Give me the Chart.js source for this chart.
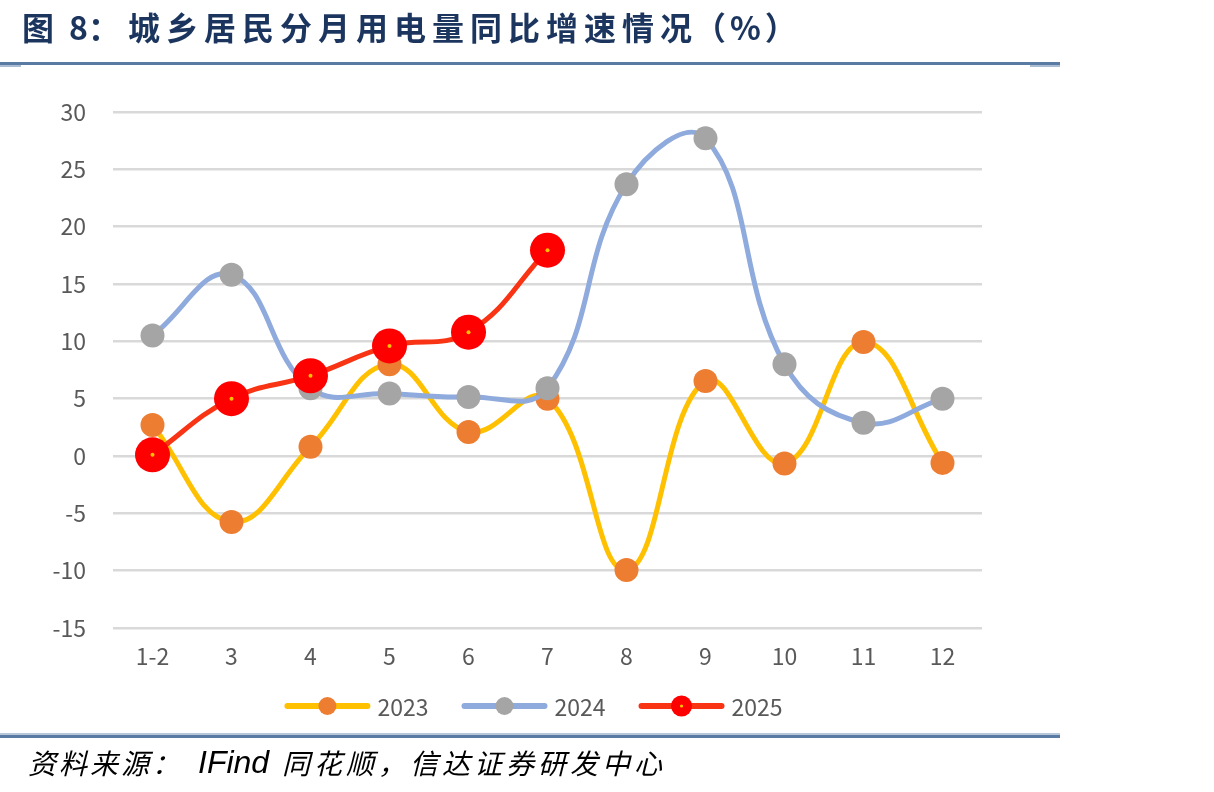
<!DOCTYPE html>
<html><head><meta charset="utf-8">
<script src="https://cdn.jsdelivr.net/npm/chart.js@4.4.1/dist/chart.umd.min.js"></script>
<style>
html,body{margin:0;padding:0;background:#fff;}
body{width:1214px;height:792px;overflow:hidden;position:relative;}
#c{position:absolute;left:0;top:0;}
.tt{position:absolute;top:10px;font-family:"Noto Sans CJK SC";font-weight:700;color:#1B355E;font-size:32px;line-height:32px;white-space:nowrap;}
.ft{position:absolute;top:748px;font-family:"Noto Sans CJK SC";font-style:italic;color:#000;font-size:28px;line-height:28px;white-space:nowrap;}
.bar{position:absolute;}
</style></head>
<body>
<canvas id="c" width="1214" height="792"></canvas>
<div class="tt" style="left:22px;">图</div>
<div class="tt" style="left:69px;">8：</div>
<div class="tt" style="left:128px;letter-spacing:6px;">城乡居民分月用电量同比增速情况</div>
<div class="tt" style="left:694px;letter-spacing:4px;">（%）</div>
<div class="bar" style="left:0;top:62px;width:1060px;height:3px;background:#5A7BA3;"></div>
<div class="bar" style="left:0;top:65px;width:21px;height:2px;background:#A9BCD3;"></div>
<div class="bar" style="left:1030px;top:65px;width:30px;height:2px;background:#A9BCD3;"></div>
<div class="bar" style="left:0;top:733px;width:1060px;height:2px;background:#B8C7DA;"></div>
<div class="bar" style="left:0;top:735px;width:1060px;height:3px;background:#5A7BA3;"></div>
<div class="ft" style="left:28px;letter-spacing:3px;">资料来源：</div>
<div class="ft" style="left:198px;top:746px;font-family:'Liberation Sans';font-size:32px;line-height:32px;">IFind</div>
<div class="ft" style="left:282px;letter-spacing:4px;">同花顺，信达证券研发中心</div>
<script>
const categories = ['1-2','3','4','5','6','7','8','9','10','11','12'];
const seriesNames = ['2023','2024','2025'];
const v2023 = [2.7, -5.75, 0.8, 8.0, 2.1, 5.0, -9.95, 6.55, -0.65, 9.95, -0.6];
const v2024 = [10.5, 15.8, 5.9, 5.45, 5.15, 5.9, 23.7, 27.7, 8.0, 2.9, 5.0];
const v2025 = [0.1, 5.0, 7.0, 9.6, 10.8, 17.95, null, null, null, null, null];
const yTicks = {min: -15, max: 30, step: 5};

const FONT = 'Noto Sans CJK SC';
const TICK_COLOR = '#595959';

const centerDots = {
  id: 'centerDots',
  afterDatasetDraw(chart, args) {
    const ds = chart.data.datasets[args.index];
    if (!ds.centerColor) return;
    const ctx = chart.ctx;
    ctx.save();
    ctx.fillStyle = ds.centerColor;
    args.meta.data.forEach((p, i) => {
      if (ds.data[i] === null || p.skip) return;
      ctx.beginPath();
      ctx.arc(p.x, p.y, 2, 0, Math.PI * 2);
      ctx.fill();
    });
    ctx.restore();
  }
};

const customLegend = {
  id: 'customLegend',
  afterDraw(chart) {
    const ctx = chart.ctx;
    const dss = chart.data.datasets;
    const lineLen = 86, textGap = 7, itemGap = 33, y = 706;
    ctx.save();
    ctx.font = '23px "' + FONT + '"';
    const widths = dss.map(d => lineLen + textGap + ctx.measureText(d.label).width);
    const total = widths.reduce((a, b) => a + b, 0) + itemGap * (dss.length - 1);
    let x = 533.5 - total / 2;
    dss.forEach((d, i) => {
      ctx.strokeStyle = d.borderColor;
      ctx.lineWidth = 6;
      ctx.lineCap = 'round';
      ctx.beginPath();
      ctx.moveTo(x + 3, y);
      ctx.lineTo(x + lineLen - 3, y);
      ctx.stroke();
      const cx = x + lineLen / 2;
      ctx.fillStyle = d.pointBackgroundColor;
      ctx.beginPath();
      ctx.arc(cx, y, d.legendRadius, 0, Math.PI * 2);
      ctx.fill();
      if (d.centerColor) {
        ctx.fillStyle = d.centerColor;
        ctx.beginPath();
        ctx.arc(cx, y, 1.6, 0, Math.PI * 2);
        ctx.fill();
      }
      ctx.fillStyle = TICK_COLOR;
      ctx.textBaseline = 'middle';
      ctx.textAlign = 'left';
      ctx.fillText(d.label, x + lineLen + textGap, y + 1);
      x += widths[i] + itemGap;
    });
    ctx.restore();
  }
};

const common = {borderWidth: 5, tension: 0.42, borderCapStyle: 'round', borderJoinStyle: 'round', pointBorderWidth: 0, pointHoverRadius: 0, spanGaps: false};

new Chart(document.getElementById('c'), {
  type: 'line',
  data: {
    labels: categories,
    datasets: [
      Object.assign({}, common, {label: seriesNames[0], data: v2023, borderColor: '#FFC000', pointBackgroundColor: '#ED7D31', pointBorderColor: '#ED7D31', pointRadius: 12, legendRadius: 9, order: 3}),
      Object.assign({}, common, {label: seriesNames[1], data: v2024, borderColor: '#8FAADC', pointBackgroundColor: '#A5A5A5', pointBorderColor: '#A5A5A5', pointRadius: 12, legendRadius: 9, order: 2}),
      Object.assign({}, common, {label: seriesNames[2], data: v2025, borderColor: '#F93414', pointBackgroundColor: '#FF0000', pointBorderColor: '#FF0000', pointRadius: 17.5, legendRadius: 10.5, centerColor: '#FFC000', order: 1})
    ]
  },
  options: {
    responsive: false,
    animation: false,
    devicePixelRatio: window.devicePixelRatio || 1,
    layout: {padding: {left: 0, right: 232, top: 112, bottom: 100}},
    plugins: {legend: {display: false}, tooltip: {enabled: false}},
    scales: {
      x: {
        offset: true,
        grid: {display: false, drawTicks: false, offset: true},
        border: {display: false},
        ticks: {color: TICK_COLOR, font: {size: 23, family: FONT}, padding: 14, maxRotation: 0, autoSkip: false},
        afterFit: s => { s.height = 64; }
      },
      y: {
        min: yTicks.min, max: yTicks.max,
        grid: {color: '#D9D9D9', lineWidth: 2.5, drawTicks: false},
        border: {display: false},
        ticks: {stepSize: yTicks.step, color: TICK_COLOR, font: {size: 23, family: FONT}, padding: 27},
        afterFit: s => { s.width = 113; }
      }
    }
  },
  plugins: [centerDots, customLegend]
});
</script>
</body></html>
